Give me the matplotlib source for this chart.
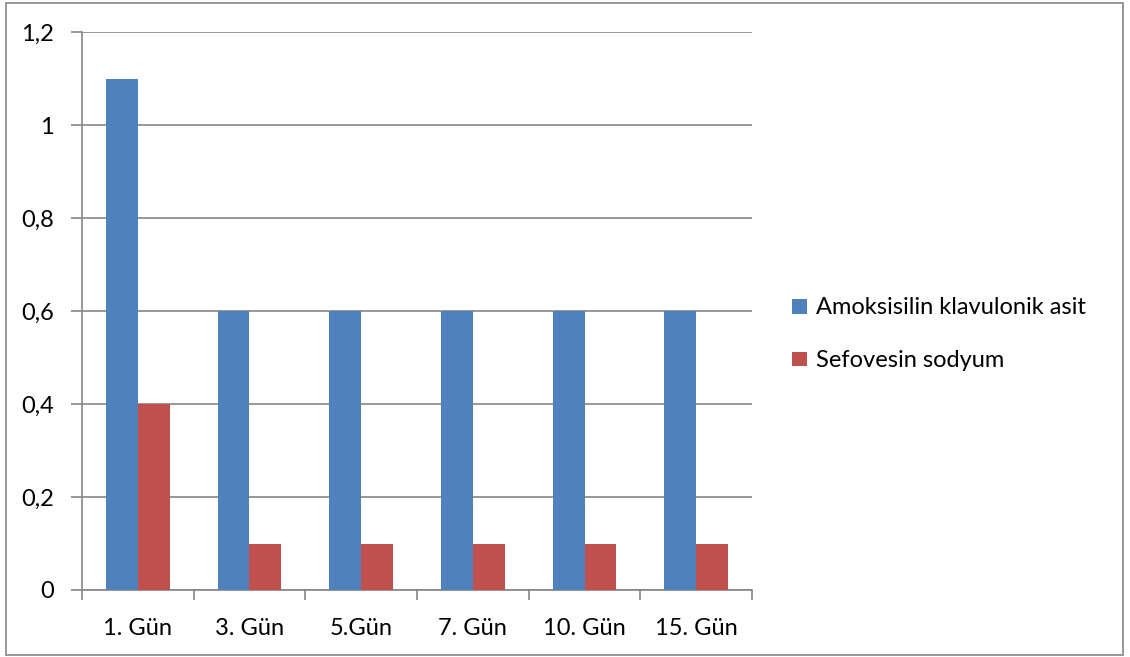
import matplotlib.pyplot as plt
import numpy as np
from matplotlib.patches import Rectangle
from matplotlib.ticker import FixedLocator, FuncFormatter

# data
days = ["1. Gün", "3. Gün", "5.Gün", "7. Gün", "10. Gün", "15. Gün"]
amoks = [1.1, 0.6, 0.6, 0.6, 0.6, 0.6]
sefov = [0.4, 0.1, 0.1, 0.1, 0.1, 0.1]
series_names = ["Amoksisilin klavulonik asit", "Sefovesin sodyum"]

plt.rcParams['font.family'] = ['Lato', 'DejaVu Sans']
fs = 17

fig = plt.figure(figsize=(11.3, 6.57), dpi=100)
ax = fig.add_axes([82/1130, 67/657, 670/1130, 558/657])

x = np.arange(len(days))
w = 1 / 3.5
b1 = ax.bar(x - w/2, amoks, w, color="#4F81BD", label=series_names[0], zorder=3)
b2 = ax.bar(x + w/2, sefov, w, color="#C0504D", label=series_names[1], zorder=3)

ax.set_xlim(-0.5, len(days) - 0.5)
ax.set_ylim(0, 1.2)
ax.set_yticks(np.arange(0, 1.21, 0.2))
ax.yaxis.set_major_formatter(FuncFormatter(lambda v, p: f"{v:.1f}".replace(".", ",").replace(",0", "") if v != 0 else "0"))
ax.yaxis.grid(True, color="#868686", linewidth=1.2, zorder=0)

ax.xaxis.set_major_locator(FixedLocator(np.arange(-0.5, len(days), 1)))
ax.xaxis.set_minor_locator(FixedLocator(x))
ax.set_xticklabels([], minor=False)
ax.set_xticklabels(days, minor=True)
ax.tick_params(axis="x", which="major", length=7, color="#868686", width=1.2)
ax.tick_params(axis="x", which="minor", length=0, pad=20, labelsize=fs)
ax.tick_params(axis="y", length=8, color="#868686", width=1.2, labelsize=fs, pad=12)

for s in ["top", "right"]:
    ax.spines[s].set_visible(False)
for s in ["left", "bottom"]:
    ax.spines[s].set_color("#868686")
    ax.spines[s].set_linewidth(1.2)

leg = fig.legend(handles=[b1, b2], loc="upper left", bbox_to_anchor=(783/1130, 1 - 288/657),
                 frameon=False, fontsize=fs, handlelength=0.6, handleheight=0.6,
                 handletextpad=0.4, labelspacing=1.35, borderaxespad=0)

fig.patches.append(Rectangle((6/1130, 2/657), 1117/1130, 652/657, transform=fig.transFigure,
                             fill=False, edgecolor="#868686", linewidth=1.2))

fig.savefig("out.png", dpi=100)
